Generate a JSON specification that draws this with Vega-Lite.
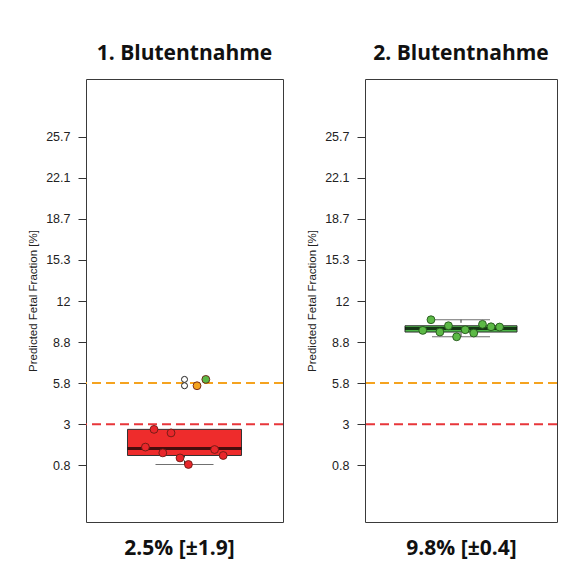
{
  "$schema": "https://vega.github.io/schema/vega-lite/v6.json",
  "background": "white",
  "autosize": {"type": "pad"},
  "padding": {"left": 27, "top": 42, "right": 0, "bottom": 0},
  "config": {
    "view": {"stroke": "#3a3a3a", "strokeWidth": 1},
    "axisY": {"minExtent": 0},
    "axisX": {"minExtent": 0}
  },
  "datasets": {
    "points": [
      {"panel": "1", "x": 0.791, "ff": 1.77, "cat": "low"},
      {"panel": "1", "x": 0.837, "ff": 2.72, "cat": "low"},
      {"panel": "1", "x": 0.884, "ff": 1.46, "cat": "low"},
      {"panel": "1", "x": 0.928, "ff": 2.53, "cat": "low"},
      {"panel": "1", "x": 0.976, "ff": 1.19, "cat": "low"},
      {"panel": "1", "x": 1.021, "ff": 0.84, "cat": "low"},
      {"panel": "1", "x": 1.067, "ff": 5.62, "cat": "mid"},
      {"panel": "1", "x": 1.114, "ff": 6.07, "cat": "high"},
      {"panel": "1", "x": 1.161, "ff": 1.64, "cat": "low"},
      {"panel": "1", "x": 1.207, "ff": 1.32, "cat": "low"},
      {"panel": "2", "x": 0.790, "ff": 9.71, "cat": "high"},
      {"panel": "2", "x": 0.835, "ff": 10.54, "cat": "high"},
      {"panel": "2", "x": 0.884, "ff": 9.58, "cat": "high"},
      {"panel": "2", "x": 0.931, "ff": 10.07, "cat": "high"},
      {"panel": "2", "x": 0.976, "ff": 9.21, "cat": "high"},
      {"panel": "2", "x": 1.023, "ff": 9.76, "cat": "high"},
      {"panel": "2", "x": 1.070, "ff": 9.50, "cat": "high"},
      {"panel": "2", "x": 1.118, "ff": 10.18, "cat": "high"},
      {"panel": "2", "x": 1.165, "ff": 9.99, "cat": "high"},
      {"panel": "2", "x": 1.212, "ff": 9.97, "cat": "high"}
    ],
    "boxes": [
      {"panel": "1", "pos": 1, "lo": 0.84, "q1": 1.32, "med": 1.70, "q3": 2.72, "hi": 2.72},
      {"panel": "2", "pos": 1, "lo": 9.21, "q1": 9.58, "med": 9.865, "q3": 10.07, "hi": 10.54}
    ],
    "outliers": [
      {"panel": "1", "pos": 1, "ff": 5.62},
      {"panel": "1", "pos": 1, "ff": 6.07}
    ],
    "thresholds": [
      {"value": 5.8, "kind": "mid"},
      {"value": 3, "kind": "low"}
    ]
  },
  "spacing": 82,
  "bounds": "flush",
  "hconcat": [
    {
      "width": 197,
      "height": 443,
      "title": {"text": "1. Blutentnahme", "font": "Open Sans", "fontSize": 21, "fontWeight": "bold", "color": "#111111", "frame": "group", "anchor": "middle", "offset": 15, "baseline": "top"},
      "layer": [
        {
          "data": {"name": "thresholds"},
          "mark": {"type": "rule", "strokeWidth": 2, "strokeDash": [9, 5]},
          "encoding": {
            "y": {"field": "value", "type": "quantitative", "title": "Predicted Fetal Fraction [%]",
              "scale": {"domain": [-2.24, 0.8, 3, 5.8, 8.8, 12, 15.3, 18.7, 22.1, 25.7, 30.77], "range": [443, 386.2, 345.15, 304.1, 263.05, 222, 180.95, 139.9, 98.85, 57.8, 0], "nice": false, "zero": false},
              "axis": {"values": [0.8, 3, 5.8, 8.8, 12, 15.3, 18.7, 22.1, 25.7], "format": ".1~f", "grid": false, "domain": false, "tickSize": 8, "tickColor": "#333333", "labelPadding": 8, "labelFont": "Liberation Sans", "labelFontSize": 12.5, "labelColor": "#222222", "titleFont": "Liberation Sans", "titleFontSize": 11.5, "titleFontWeight": "normal", "titleColor": "#222222", "titlePadding": 7}},
            "color": {"field": "kind", "type": "nominal", "scale": {"domain": ["low", "mid", "high"], "range": ["#e8363a", "#f5a31f", "#5cb946"]}, "legend": null}
          }
        },
        {
          "data": {"name": "boxes"},
          "transform": [{"filter": "datum.panel == '1'"}],
          "mark": {"type": "rule", "color": "#333333", "strokeWidth": 1, "strokeDash": [4, 3]},
          "encoding": {
            "x": {"field": "pos", "type": "quantitative", "title": "2.5% [±1.9]", "scale": {"domain": [0.5, 1.5], "nice": false, "zero": false},
              "axis": {"labels": false, "ticks": false, "domain": false, "grid": false, "titleFont": "Open Sans", "titleFontSize": 21, "titleFontWeight": "bold", "titleColor": "#111111", "titleBaseline": "alphabetic", "titlePadding": 32, "titleX": 93}},
            "y": {"field": "lo", "type": "quantitative", "title": "Predicted Fetal Fraction [%]"},
            "y2": {"field": "hi"}
          }
        },
        {
          "data": {"name": "boxes"},
          "transform": [{"filter": "datum.panel == '1'"}],
          "mark": {"type": "bar", "size": 114, "stroke": "#333333", "strokeWidth": 1, "fill": "#ee2c2c"},
          "encoding": {
            "x": {"field": "pos", "type": "quantitative", "title": "2.5% [±1.9]"},
            "y": {"field": "q1", "type": "quantitative", "title": "Predicted Fetal Fraction [%]"},
            "y2": {"field": "q3"}
          }
        },
        {
          "data": {"name": "boxes"},
          "transform": [{"filter": "datum.panel == '1'"}],
          "mark": {"type": "tick", "orient": "horizontal", "size": 114, "thickness": 3, "color": "#000000"},
          "encoding": {
            "x": {"field": "pos", "type": "quantitative", "title": "2.5% [±1.9]"},
            "y": {"field": "med", "type": "quantitative", "title": "Predicted Fetal Fraction [%]"}
          }
        },
        {
          "data": {"name": "boxes"},
          "transform": [{"filter": "datum.panel == '1'"}],
          "mark": {"type": "tick", "orient": "horizontal", "size": 58, "thickness": 1, "color": "#333333"},
          "encoding": {
            "x": {"field": "pos", "type": "quantitative", "title": "2.5% [±1.9]"},
            "y": {"field": "lo", "type": "quantitative", "title": "Predicted Fetal Fraction [%]"}
          }
        },
        {
          "data": {"name": "outliers"},
          "transform": [{"filter": "datum.panel == '1'"}],
          "mark": {"type": "point", "shape": "circle", "size": 36, "filled": false, "stroke": "#222222", "strokeWidth": 1, "fill": "white", "fillOpacity": 1},
          "encoding": {
            "x": {"field": "pos", "type": "quantitative", "title": "2.5% [±1.9]"},
            "y": {"field": "ff", "type": "quantitative", "title": "Predicted Fetal Fraction [%]"}
          }
        },
        {
          "data": {"name": "points"},
          "transform": [{"filter": "datum.panel == '1'"}],
          "mark": {"type": "circle", "size": 62, "opacity": 1, "stroke": "#6b1c14", "strokeWidth": 0.9},
          "encoding": {
            "x": {"field": "x", "type": "quantitative", "title": "2.5% [±1.9]"},
            "y": {"field": "ff", "type": "quantitative", "title": "Predicted Fetal Fraction [%]"},
            "color": {"field": "cat", "type": "nominal", "scale": {"domain": ["low", "mid", "high"], "range": ["#e8262b", "#f4a21d", "#5cb946"]}, "legend": null}
          }
        }
      ],
      "resolve": {"scale": {"color": "independent"}}
    },
    {
      "width": 192,
      "height": 443,
      "title": {"text": "2. Blutentnahme", "font": "Open Sans", "fontSize": 21, "fontWeight": "bold", "color": "#111111", "frame": "group", "anchor": "middle", "offset": 15, "baseline": "top"},
      "layer": [
        {
          "data": {"name": "thresholds"},
          "mark": {"type": "rule", "strokeWidth": 2, "strokeDash": [9, 5]},
          "encoding": {
            "y": {"field": "value", "type": "quantitative", "title": "Predicted Fetal Fraction [%]",
              "scale": {"domain": [-2.24, 0.8, 3, 5.8, 8.8, 12, 15.3, 18.7, 22.1, 25.7, 30.77], "range": [443, 386.2, 345.15, 304.1, 263.05, 222, 180.95, 139.9, 98.85, 57.8, 0], "nice": false, "zero": false},
              "axis": {"values": [0.8, 3, 5.8, 8.8, 12, 15.3, 18.7, 22.1, 25.7], "format": ".1~f", "grid": false, "domain": false, "tickSize": 8, "tickColor": "#333333", "labelPadding": 8, "labelFont": "Liberation Sans", "labelFontSize": 12.5, "labelColor": "#222222", "titleFont": "Liberation Sans", "titleFontSize": 11.5, "titleFontWeight": "normal", "titleColor": "#222222", "titlePadding": 7}},
            "color": {"field": "kind", "type": "nominal", "scale": {"domain": ["low", "mid", "high"], "range": ["#e8363a", "#f5a31f", "#5cb946"]}, "legend": null}
          }
        },
        {
          "data": {"name": "boxes"},
          "transform": [{"filter": "datum.panel == '2'"}],
          "mark": {"type": "rule", "color": "#333333", "strokeWidth": 1, "strokeDash": [4, 3]},
          "encoding": {
            "x": {"field": "pos", "type": "quantitative", "title": "9.8% [±0.4]", "scale": {"domain": [0.5, 1.5], "nice": false, "zero": false},
              "axis": {"labels": false, "ticks": false, "domain": false, "grid": false, "titleFont": "Open Sans", "titleFontSize": 21, "titleFontWeight": "bold", "titleColor": "#111111", "titleBaseline": "alphabetic", "titlePadding": 32}},
            "y": {"field": "lo", "type": "quantitative", "title": "Predicted Fetal Fraction [%]"},
            "y2": {"field": "hi"}
          }
        },
        {
          "data": {"name": "boxes"},
          "transform": [{"filter": "datum.panel == '2'"}],
          "mark": {"type": "bar", "size": 112, "stroke": "#333333", "strokeWidth": 1, "fill": "#4cb748"},
          "encoding": {
            "x": {"field": "pos", "type": "quantitative", "title": "9.8% [±0.4]"},
            "y": {"field": "q1", "type": "quantitative", "title": "Predicted Fetal Fraction [%]"},
            "y2": {"field": "q3"}
          }
        },
        {
          "data": {"name": "boxes"},
          "transform": [{"filter": "datum.panel == '2'"}],
          "mark": {"type": "tick", "orient": "horizontal", "size": 112, "thickness": 3, "color": "#000000"},
          "encoding": {
            "x": {"field": "pos", "type": "quantitative", "title": "9.8% [±0.4]"},
            "y": {"field": "med", "type": "quantitative", "title": "Predicted Fetal Fraction [%]"}
          }
        },
        {
          "data": {"name": "boxes"},
          "transform": [{"filter": "datum.panel == '2'"}],
          "mark": {"type": "tick", "orient": "horizontal", "size": 58, "thickness": 1, "color": "#333333"},
          "encoding": {
            "x": {"field": "pos", "type": "quantitative", "title": "9.8% [±0.4]"},
            "y": {"field": "lo", "type": "quantitative", "title": "Predicted Fetal Fraction [%]"}
          }
        },
        {
          "data": {"name": "boxes"},
          "transform": [{"filter": "datum.panel == '2'"}],
          "mark": {"type": "tick", "orient": "horizontal", "size": 58, "thickness": 1, "color": "#333333"},
          "encoding": {
            "x": {"field": "pos", "type": "quantitative", "title": "9.8% [±0.4]"},
            "y": {"field": "hi", "type": "quantitative", "title": "Predicted Fetal Fraction [%]"}
          }
        },
        {
          "data": {"name": "points"},
          "transform": [{"filter": "datum.panel == '2'"}],
          "mark": {"type": "circle", "size": 62, "opacity": 1, "stroke": "#24561b", "strokeWidth": 0.9},
          "encoding": {
            "x": {"field": "x", "type": "quantitative", "title": "9.8% [±0.4]"},
            "y": {"field": "ff", "type": "quantitative", "title": "Predicted Fetal Fraction [%]"},
            "color": {"field": "cat", "type": "nominal", "scale": {"domain": ["low", "mid", "high"], "range": ["#e8262b", "#f4a21d", "#5cb946"]}, "legend": null}
          }
        }
      ],
      "resolve": {"scale": {"color": "independent"}}
    }
  ]
}
